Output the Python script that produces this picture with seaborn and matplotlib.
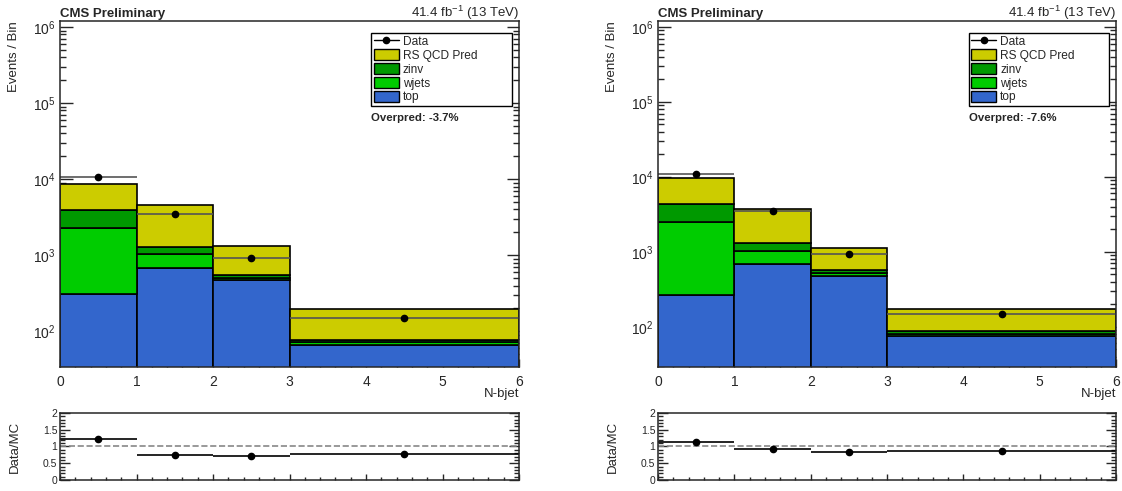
import numpy as np
import pandas as pd
import seaborn as sns
import matplotlib.pyplot as plt
from matplotlib.lines import Line2D
from matplotlib.patches import Patch
from matplotlib.ticker import MultipleLocator, LogLocator, NullFormatter, FormatStrFormatter

# binning in N-bjet
edges = [0, 1, 2, 3, 6]
processes = ["RS QCD Pred", "zinv", "wjets", "top"]

# left panel (per-process yields, not cumulative)
left_qcd = [4800, 3365, 780, 119]
left_zinv = [1610, 245, 45, 5]
left_wjets = [1983, 350, 30, 6]
left_top = [307, 680, 470, 66]
left_data = [10700, 3460, 930, 152]
left_overpred = "Overpred: -3.7%"

# right panel
right_qcd = [5370, 2380, 547, 83.5]
right_zinv = [1850, 280, 48, 6]
right_wjets = [2214, 360, 48, 4.5]
right_top = [266, 680, 477, 76]
right_data = [10900, 3470, 940, 149]
right_overpred = "Overpred: -7.6%"

colors = {"RS QCD Pred": "#cccc00", "zinv": "#009900",
          "wjets": "#00cc00", "top": "#3366cc"}

sns.set_style("ticks")
plt.rcParams["font.family"] = ["Liberation Sans", "DejaVu Sans"]
plt.rcParams["mathtext.default"] = "regular"
plt.rcParams["axes.linewidth"] = 1.1


def stack_frame(qcd, zinv, wjets, top):
    """Long-form table: one row per process and bin."""
    centers = [(a + b) / 2 for a, b in zip(edges[:-1], edges[1:])]
    rows = []
    for name, vals in zip(processes, [qcd, zinv, wjets, top]):
        for c, v in zip(centers, vals):
            rows.append({"nbjet": c, "events": v, "process": name})
    return pd.DataFrame(rows)


def draw_panel(ax, rax, yields, data, overpred, ymin):
    df = stack_frame(*yields)
    sns.histplot(data=df, x="nbjet", weights="events", hue="process",
                 hue_order=processes, palette=colors, bins=edges,
                 multiple="stack", alpha=1, edgecolor="black",
                 linewidth=1.2, legend=False, ax=ax)
    e = np.array(edges, dtype=float)
    centers = (e[:-1] + e[1:]) / 2
    half = (e[1:] - e[:-1]) / 2
    data = np.array(data, dtype=float)
    ax.errorbar(centers, data, xerr=half, fmt="o", color="black", ms=4.5,
                ecolor="#555555", elinewidth=1.2, capsize=0)
    ax.set_yscale("log")
    ax.set_xlim(0, 6)
    ax.set_ylim(ymin, 1.2e6)

    ax.xaxis.set_major_locator(MultipleLocator(1))
    ax.xaxis.set_minor_locator(MultipleLocator(0.2))
    ax.yaxis.set_major_locator(LogLocator(base=10, numticks=10))
    ax.yaxis.set_minor_locator(LogLocator(base=10, subs=np.arange(2, 10), numticks=20))
    ax.yaxis.set_minor_formatter(NullFormatter())
    ax.tick_params(axis="both", which="both", direction="in", labelsize=10)
    ax.tick_params(axis="y", which="both", right=True)
    ax.tick_params(axis="y", which="major", length=9, width=1)
    ax.tick_params(axis="y", which="minor", length=4.5, width=1)
    ax.tick_params(axis="x", which="major", length=6, width=1, pad=6)
    ax.tick_params(axis="x", which="minor", length=3, width=1)

    ax.set_xlabel("N-bjet", loc="right", fontsize=9.5)
    ax.xaxis.set_label_coords(1.0, -0.062)
    ax.set_ylabel("Events / Bin", loc="top", fontsize=9.5)
    ax.yaxis.set_label_coords(-0.088, 1.0)

    ax.text(0.0, 1.012, "CMS Preliminary", transform=ax.transAxes,
            fontsize=9.5, fontweight="bold", ha="left", va="baseline")
    ax.text(1.0, 1.012, r"41.4 fb$^{-1}$ (13 TeV)", transform=ax.transAxes,
            fontsize=9.5, ha="right", va="baseline")

    handles = [Line2D([], [], color="black", marker="o", ms=4.5, lw=1)]
    handles += [Patch(facecolor=colors[p], edgecolor="black", lw=1) for p in processes]
    leg = ax.legend(handles, ["Data"] + processes, loc="upper left",
                    bbox_to_anchor=(0.678, 0.754, 0.307, 0.211), mode="expand",
                    fontsize=8.6, frameon=True, fancybox=False, framealpha=1,
                    edgecolor="black", borderpad=0.2, labelspacing=0.12,
                    handlelength=2.1, handleheight=1.0, handletextpad=0.35,
                    borderaxespad=0)
    leg.get_frame().set_linewidth(1)
    ax.text(0.678, 0.735, overpred, transform=ax.transAxes, fontsize=8.2,
            fontweight="bold", ha="left", va="top")

    # ratio panel
    total = np.sum(np.array(yields, dtype=float), axis=0)
    ratio = data / total
    rax.plot([0, 6], [1, 1], ls="--", color="#888888", lw=1.2)
    rax.errorbar(centers, ratio, xerr=half, fmt="o", color="black", ms=4.5,
                 elinewidth=1.2, capsize=0)
    rax.set_xlim(0, 6)
    rax.set_ylim(0, 2)
    rax.yaxis.set_major_locator(MultipleLocator(0.5))
    rax.yaxis.set_minor_locator(MultipleLocator(0.1))
    rax.yaxis.set_major_formatter(FormatStrFormatter("%g"))
    rax.xaxis.set_major_locator(MultipleLocator(1))
    rax.xaxis.set_minor_locator(MultipleLocator(0.2))
    rax.tick_params(axis="both", which="both", direction="in", labelsize=7.5)
    rax.tick_params(axis="y", which="both", right=True)
    rax.tick_params(axis="y", which="major", length=7, width=1, pad=2)
    rax.tick_params(axis="y", which="minor", length=3.5, width=1)
    rax.tick_params(axis="x", which="major", length=4, width=1, labelbottom=False)
    rax.tick_params(axis="x", which="minor", length=2, width=1)
    rax.set_xlabel("")
    rax.set_ylabel("Data/MC", fontsize=9.5)
    rax.yaxis.set_label_coords(-0.085, 0.5)


fig = plt.figure(figsize=(11.22, 4.91), dpi=100)
ax_l = fig.add_axes([0.0535, 0.2525, 0.4091, 0.7047])
rax_l = fig.add_axes([0.0535, 0.0224, 0.4091, 0.1365])
ax_r = fig.add_axes([0.5865, 0.2525, 0.4082, 0.7047])
rax_r = fig.add_axes([0.5865, 0.0224, 0.4082, 0.1365])

draw_panel(ax_l, rax_l, [left_qcd, left_zinv, left_wjets, left_top],
           left_data, left_overpred, 34)
draw_panel(ax_r, rax_r, [right_qcd, right_zinv, right_wjets, right_top],
           right_data, right_overpred, 29)

fig.savefig("out.png", dpi=100)
